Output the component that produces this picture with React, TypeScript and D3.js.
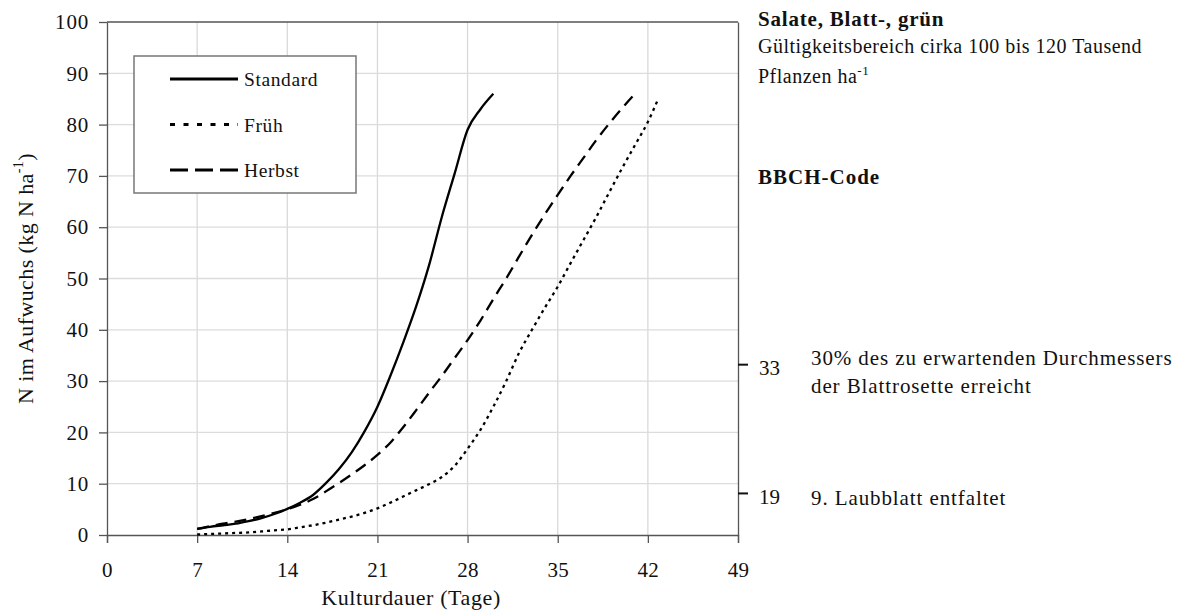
import { useEffect, useRef } from "react";
import * as d3 from "d3";

// Kulturdauer (Tage) vs. N im Aufwuchs (kg N/ha)
const standardDays = [7, 8, 9, 10, 11, 12, 13, 14, 15, 16, 17, 18, 19, 20, 21, 22, 23, 24, 25, 26, 27, 28, 29, 30];
const standardN = [1.2, 1.6, 1.9, 2.2, 2.7, 3.3, 4.1, 5.1, 6.3, 7.8, 10.1, 12.8, 16.1, 20.2, 25, 31, 37.5, 44.5, 52.5, 62, 70.5, 79, 83, 86];

const fruehDays = [7, 8, 9, 10, 11, 12, 13, 14, 15, 16, 17, 18, 19, 20, 21, 22, 23, 24, 25, 26, 27, 28, 29, 30, 31, 32, 33, 34, 35, 36, 37, 38, 39, 40, 41, 42, 42.8];
const fruehN = [0.1, 0.2, 0.3, 0.4, 0.5, 0.7, 0.9, 1.1, 1.5, 1.9, 2.4, 3, 3.6, 4.3, 5.2, 6.3, 7.5, 8.7, 9.9, 11.3, 13.5, 16.8, 20.5, 25, 30, 35.5, 40, 44.3, 48.4, 53, 57.5, 62, 66.8, 71.5, 76, 80.5, 85];

const herbstDays = [7, 8, 9, 10, 11, 12, 13, 14, 15, 16, 17, 18, 19, 20, 21, 22, 23, 24, 25, 26, 27, 28, 29, 30, 31, 32, 33, 34, 35, 36, 37, 38, 39, 40, 41];
const herbstN = [1.2, 1.7, 2.2, 2.6, 3.1, 3.7, 4.3, 5, 5.9, 7, 8.5, 10.1, 11.8, 13.6, 15.6, 18, 21, 24.3, 27.7, 31, 34.5, 38, 41.8, 46, 50, 54.3, 58.5, 62.5, 66.3, 70, 73.5, 77, 80.2, 83.2, 86];

const xTicks = [0, 7, 14, 21, 28, 35, 42, 49];
const yTicks = [0, 10, 20, 30, 40, 50, 60, 70, 80, 90, 100];

// BBCH codes on the right axis, with the N level they sit at
const bbchCodes = ["19", "33"];
const bbchAtN = [8.2, 33.3];
const bbchText = [["9. Laubblatt entfaltet"], ["30% des zu erwartenden Durchmessers", "der Blattrosette erreicht"]];

const seriesNames = ["Standard", "Früh", "Herbst"];
const seriesDash = ["", "3,4", "12,7"];
const legendDash = ["", "5,8.5", "18,7"];

const W = 1178;
const H = 612;
const FONT = "'Liberation Serif', 'Times New Roman', serif";

export default function App() {
  const gx = useRef<SVGGElement>(null);
  const gy = useRef<SVGGElement>(null);
  const gr = useRef<SVGGElement>(null);

  const left = 107, right = 738, top = 22, bottom = 535;
  const x = d3.scaleLinear().domain([0, 49]).range([left, right]);
  const y = d3.scaleLinear().domain([0, 100]).range([bottom, top]);

  const line = d3
    .line<[number, number]>()
    .x((d) => x(d[0]))
    .y((d) => y(d[1]))
    .curve(d3.curveMonotoneX);

  const series = [
    d3.zip(standardDays, standardN) as [number, number][],
    d3.zip(fruehDays, fruehN) as [number, number][],
    d3.zip(herbstDays, herbstN) as [number, number][],
  ];

  useEffect(() => {
    const ax = d3.select(gx.current!);
    ax.call(d3.axisBottom(x).tickValues(xTicks).tickSize(8).tickPadding(19));
    ax.selectAll("text").attr("font-size", 21).attr("font-family", FONT).attr("fill", "#111").attr("letter-spacing", 0.3);
    ax.selectAll("line,path").attr("stroke", "#555").attr("stroke-width", 1.3);

    const ay = d3.select(gy.current!);
    ay.call(d3.axisLeft(y).tickValues(yTicks).tickSize(8).tickPadding(10).tickSizeOuter(0));
    ay.selectAll("text").attr("font-size", 21).attr("font-family", FONT).attr("fill", "#111").attr("letter-spacing", 0.8);
    ay.selectAll("line,path").attr("stroke", "#555").attr("stroke-width", 1.3);

    const ar = d3.select(gr.current!);
    ar.call(
      d3
        .axisRight(y)
        .tickValues(bbchAtN)
        .tickFormat((_, i) => bbchCodes[i])
        .tickSize(10)
        .tickPadding(11)
        .tickSizeOuter(0)
    );
    ar.selectAll("text").attr("font-size", 21).attr("font-family", FONT).attr("fill", "#111").attr("dy", "0.48em");
    ar.selectAll("line").attr("stroke", "#111").attr("stroke-width", 2);
    ar.select("path").attr("stroke", "#555").attr("stroke-width", 1.3);
  });

  return (
    <svg width={W} height={H} style={{ position: "absolute", left: 0, top: 0, background: "#fff" }} fontFamily={FONT}>
      {/* grid */}
      {xTicks.slice(1, -1).map((t) => (
        <line key={"gx" + t} x1={x(t)} x2={x(t)} y1={top} y2={bottom} stroke="#d9d9d9" strokeWidth={1.3} />
      ))}
      {yTicks.slice(1).map((t) => (
        <line key={"gy" + t} x1={left} x2={right} y1={y(t)} y2={y(t)} stroke={t === 100 ? "#555" : "#dcdcdc"} strokeWidth={1.3} />
      ))}

      <g ref={gx} transform={`translate(0,${bottom})`} />
      <g ref={gy} transform={`translate(${left},0)`} />
      <g ref={gr} transform={`translate(${right},0)`} />

      {/* curves */}
      {series.map((s, i) => (
        <path key={i} d={line(s) ?? ""} fill="none" stroke="#000" strokeWidth={2.3} strokeDasharray={seriesDash[i]} />
      ))}

      {/* legend */}
      <rect x={134} y={56} width={222} height={137} fill="#fff" stroke="#777" strokeWidth={1.5} />
      {seriesNames.map((n, i) => (
        <g key={n} transform={`translate(0,${79 + i * 45.5})`}>
          <line x1={170} x2={238} y1={0} y2={0} stroke="#000" strokeWidth={2.8} strokeDasharray={legendDash[i]} />
          <text x={244} y={7} fontSize={19.5} letterSpacing={0.6} fill="#111">{n}</text>
        </g>
      ))}

      {/* axis titles */}
      <text x={411} y={605} textAnchor="middle" fontSize={22} letterSpacing={0.6} fill="#111">Kulturdauer (Tage)</text>
      <text transform={`translate(33,${(top + bottom) / 2}) rotate(-90)`} textAnchor="middle" fontSize={22} letterSpacing={0.4} fill="#111">
        N im Aufwuchs (kg N ha
        <tspan fontSize={14} dy={-10}>-1</tspan>
        <tspan dy={10}>)</tspan>
      </text>

      {/* right side annotation */}
      <text x={758} y={26} fontSize={21} fontWeight="bold" letterSpacing={0.8} fill="#111">Salate, Blatt-, grün</text>
      <text x={758} y={53} fontSize={20} letterSpacing={0.5} fill="#111">Gültigkeitsbereich cirka 100 bis 120 Tausend</text>
      <text x={758} y={83} fontSize={20} letterSpacing={0.5} fill="#111">
        Pflanzen ha<tspan fontSize={13} dy={-8}>-1</tspan>
      </text>
      <text x={758} y={184} fontSize={21} fontWeight="bold" letterSpacing={1} fill="#111">BBCH-Code</text>
      {bbchText.map((lines, i) =>
        lines.map((t, j) => (
          <text key={i + "-" + j} x={811} y={y(bbchAtN[i]) + 12 - (lines.length - 1) * 11 + j * 28} fontSize={21} letterSpacing={0.9} fill="#111">{t}</text>
        ))
      )}
    </svg>
  );
}
